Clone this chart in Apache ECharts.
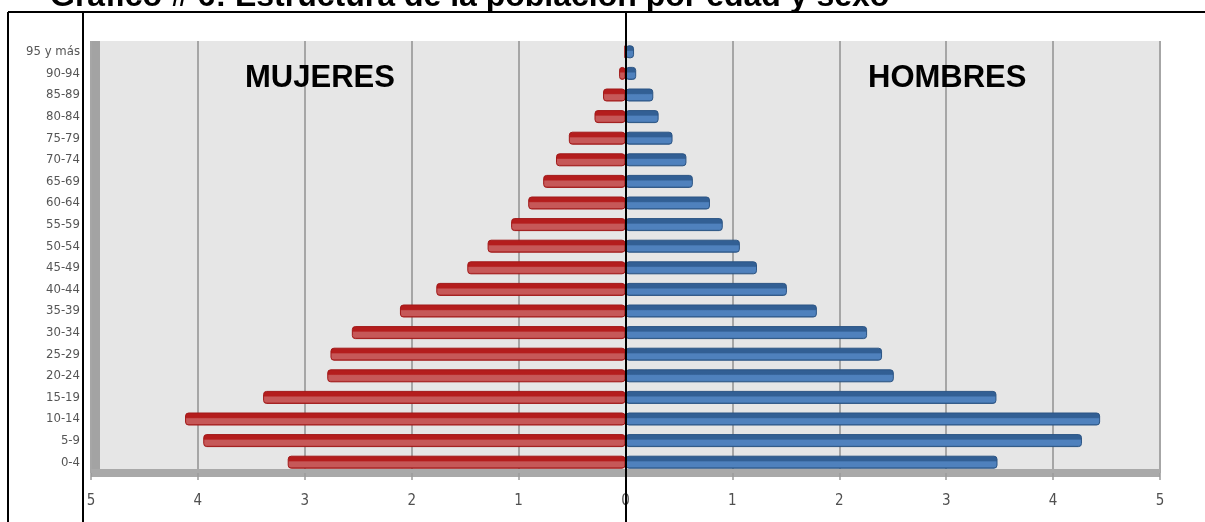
<!DOCTYPE html>
<html>
<head>
<meta charset="utf-8">
<title>Estructura de la población por edad y sexo</title>
<script src="https://cdn.jsdelivr.net/npm/echarts@6/dist/echarts.min.js"></script>
<style>
  html, body { margin: 0; padding: 0; background: #fff; }
  #piramide { width: 1205px; height: 522px; }
</style>
</head>
<body>
<div id="piramide"></div>
<script>
// grupos de edad, de abajo hacia arriba
const edades = ['0-4', '5-9', '10-14', '15-19', '20-24', '25-29', '30-34', '35-39', '40-44', '45-49',
  '50-54', '55-59', '60-64', '65-69', '70-74', '75-79', '80-84', '85-89', '90-94', '95 y más'];

// porcentaje de la población
const mujeres = [3.16, 3.95, 4.12, 3.39, 2.79, 2.76, 2.56, 2.11, 1.77, 1.48,
  1.29, 1.07, 0.91, 0.77, 0.65, 0.53, 0.29, 0.21, 0.06, 0.01];
const hombres = [3.48, 4.27, 4.44, 3.47, 2.51, 2.40, 2.26, 1.79, 1.51, 1.23,
  1.07, 0.91, 0.79, 0.63, 0.57, 0.44, 0.31, 0.26, 0.10, 0.08];

const ejeMin = -5;
const ejeMax = 5;

function degradado(oscuro, claro, borde) {
  return {
    type: 'linear', x: 0, y: 0, x2: 0, y2: 1,
    colorStops: [
      { offset: 0, color: oscuro },
      { offset: 0.38, color: oscuro },
      { offset: 0.48, color: claro },
      { offset: 0.85, color: claro },
      { offset: 1, color: borde }
    ]
  };
}

const chart = echarts.init(document.getElementById('piramide'));

const option = {
  animation: false,
  grid: {
    left: 91, right: 45, top: 41, bottom: 49,
    show: true, backgroundColor: '#e6e6e6', borderWidth: 0
  },
  xAxis: {
    type: 'value',
    min: ejeMin, max: ejeMax, interval: 1,
    axisLine: { show: true, onZero: false, lineStyle: { color: '#a9a9a9', width: 8, cap: 'butt' } },
    axisTick: { show: true, length: 7, lineStyle: { color: '#9a9a9a', width: 1.5 } },
    axisLabel: {
      margin: 21, color: '#505050', fontSize: 15,
      fontFamily: "'DejaVu Sans Condensed', 'Liberation Sans', sans-serif",
      formatter: function (v) { return Math.abs(v); }
    },
    splitLine: { show: true, lineStyle: { color: '#a6a6a6', width: 2 } }
  },
  yAxis: {
    type: 'category',
    data: edades,
    offset: -5,
    axisLine: { show: true, onZero: false, lineStyle: { color: '#a3a3a3', width: 8, cap: 'butt' } },
    axisTick: { show: false },
    axisLabel: {
      margin: 16, color: '#555', fontSize: 13,
      fontFamily: "'Liberation Sans Narrow', 'DejaVu Sans Condensed', sans-serif"
    }
  },
  series: [
    {
      name: 'Mujeres',
      type: 'bar',
      barWidth: 13,
      barGap: '-100%',
      data: mujeres.map(function (v) { return -v; }),
      itemStyle: {
        color: degradado('#b41d1d', '#c65858', '#a51a1a'),
        borderColor: '#a11818', borderWidth: 1, borderRadius: 3
      }
    },
    {
      name: 'Hombres',
      type: 'bar',
      barWidth: 13,
      data: hombres,
      itemStyle: {
        color: degradado('#325f94', '#4f81bd', '#2d5889'),
        borderColor: '#2b5484', borderWidth: 1, borderRadius: 3
      }
    }
  ],
  graphic: [
    {
      type: 'text', left: 50, top: -19, z: 50,
      style: {
        text: 'Gráfico # 6: Estructura de la población por edad y sexo',
        font: "bold 32px 'Liberation Sans', Arial, sans-serif", fill: '#000'
      }
    },
    {
      type: 'text', left: 245, top: 63, z: 50,
      style: { text: 'MUJERES', font: "bold 31px 'Liberation Sans', Arial, sans-serif", fill: '#000' }
    },
    {
      type: 'text', left: 868, top: 63, z: 50,
      style: { text: 'HOMBRES', font: "bold 31px 'Liberation Sans', Arial, sans-serif", fill: '#000' }
    },
    // bordes de la tabla donde está el gráfico
    { type: 'line', z: 60, shape: { x1: 8, y1: 12, x2: 1205, y2: 12 }, style: { stroke: '#000', lineWidth: 2 } },
    { type: 'line', z: 60, shape: { x1: 8, y1: 12, x2: 8, y2: 522 }, style: { stroke: '#000', lineWidth: 2 } },
    { type: 'line', z: 60, shape: { x1: 83, y1: 12, x2: 83, y2: 522 }, style: { stroke: '#000', lineWidth: 2 } },
    { type: 'line', z: 60, shape: { x1: 626, y1: 12, x2: 626, y2: 522 }, style: { stroke: '#000', lineWidth: 2 } }
  ]
};

chart.setOption(option);
</script>
</body>
</html>
